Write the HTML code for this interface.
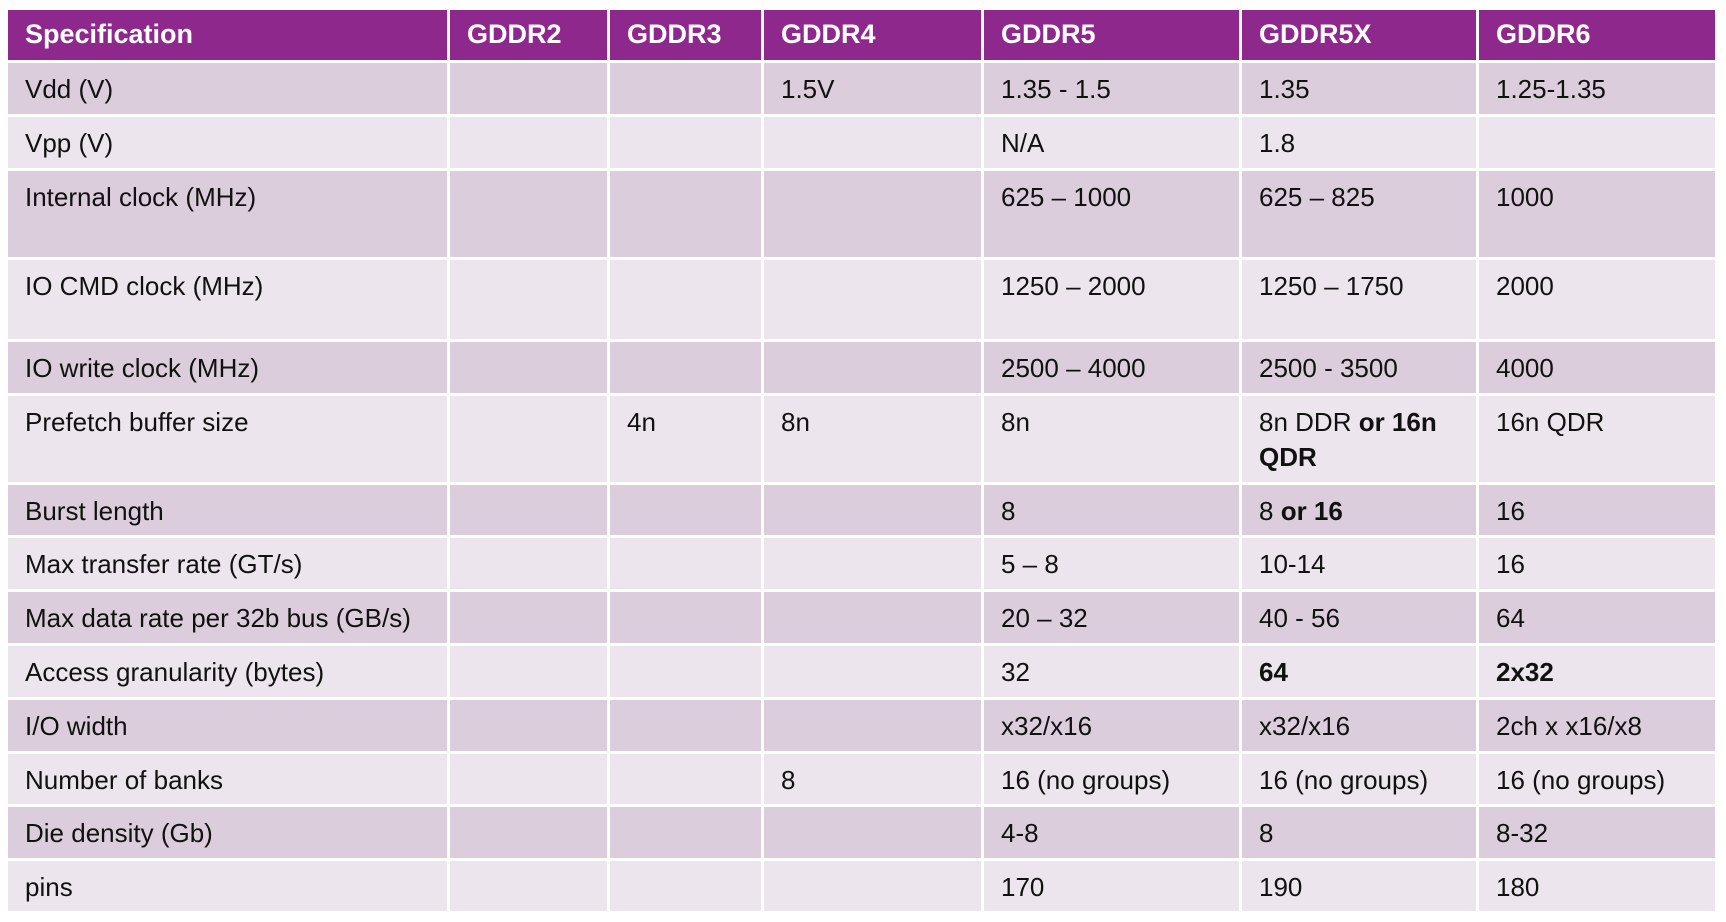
<!DOCTYPE html>
<html><head><meta charset="utf-8"><style>
html,body{margin:0;padding:0;background:#fff;width:1726px;height:922px;overflow:hidden}
.g{position:absolute;left:8px;top:10px;display:grid;
grid-template-columns:439px 157px 151px 217px 255px 234px 236px;
grid-template-rows:50px 51px 51px 86px 79px 51px 86px 50px 51px 51px 51px 51px 50px 51px 50px;
column-gap:3px;row-gap:3px;font-family:"Liberation Sans",sans-serif;font-size:26px;color:#111}
.g div{padding:9px 0 0 17px;line-height:35px;box-sizing:border-box;overflow:hidden;white-space:nowrap}
.g div.h{background:#8e288c;color:#fff;font-weight:bold;font-size:27px;padding-top:7px}
.a{background:#dccddc}.b{background:#ede5ed}
.g div.w{white-space:normal;padding-right:8px}
</style></head><body>
<div class="g">
<div class="h">Specification</div><div class="h">GDDR2</div><div class="h">GDDR3</div><div class="h">GDDR4</div><div class="h">GDDR5</div><div class="h">GDDR5X</div><div class="h">GDDR6</div>
<div class="a">Vdd (V)</div><div class="a"></div><div class="a"></div><div class="a">1.5V</div><div class="a">1.35 - 1.5</div><div class="a">1.35</div><div class="a">1.25-1.35</div>
<div class="b">Vpp (V)</div><div class="b"></div><div class="b"></div><div class="b"></div><div class="b">N/A</div><div class="b">1.8</div><div class="b"></div>
<div class="a">Internal clock (MHz)</div><div class="a"></div><div class="a"></div><div class="a"></div><div class="a">625 – 1000</div><div class="a">625 – 825</div><div class="a">1000</div>
<div class="b">IO CMD clock (MHz)</div><div class="b"></div><div class="b"></div><div class="b"></div><div class="b">1250 – 2000</div><div class="b">1250 – 1750</div><div class="b">2000</div>
<div class="a">IO write clock (MHz)</div><div class="a"></div><div class="a"></div><div class="a"></div><div class="a">2500 – 4000</div><div class="a">2500 - 3500</div><div class="a">4000</div>
<div class="b">Prefetch buffer size</div><div class="b"></div><div class="b">4n</div><div class="b">8n</div><div class="b">8n</div><div class="b w">8n DDR <b>or 16n QDR</b></div><div class="b">16n QDR</div>
<div class="a">Burst length</div><div class="a"></div><div class="a"></div><div class="a"></div><div class="a">8</div><div class="a">8 <b>or 16</b></div><div class="a">16</div>
<div class="b">Max transfer rate (GT/s)</div><div class="b"></div><div class="b"></div><div class="b"></div><div class="b">5 – 8</div><div class="b">10-14</div><div class="b">16</div>
<div class="a">Max data rate per 32b bus (GB/s)</div><div class="a"></div><div class="a"></div><div class="a"></div><div class="a">20 – 32</div><div class="a">40 - 56</div><div class="a">64</div>
<div class="b">Access granularity (bytes)</div><div class="b"></div><div class="b"></div><div class="b"></div><div class="b">32</div><div class="b"><b>64</b></div><div class="b"><b>2x32</b></div>
<div class="a">I/O width</div><div class="a"></div><div class="a"></div><div class="a"></div><div class="a">x32/x16</div><div class="a">x32/x16</div><div class="a">2ch x x16/x8</div>
<div class="b">Number of banks</div><div class="b"></div><div class="b"></div><div class="b">8</div><div class="b">16 (no groups)</div><div class="b">16 (no groups)</div><div class="b">16 (no groups)</div>
<div class="a">Die density (Gb)</div><div class="a"></div><div class="a"></div><div class="a"></div><div class="a">4-8</div><div class="a">8</div><div class="a">8-32</div>
<div class="b">pins</div><div class="b"></div><div class="b"></div><div class="b"></div><div class="b">170</div><div class="b">190</div><div class="b">180</div>
</div>
</body></html>
